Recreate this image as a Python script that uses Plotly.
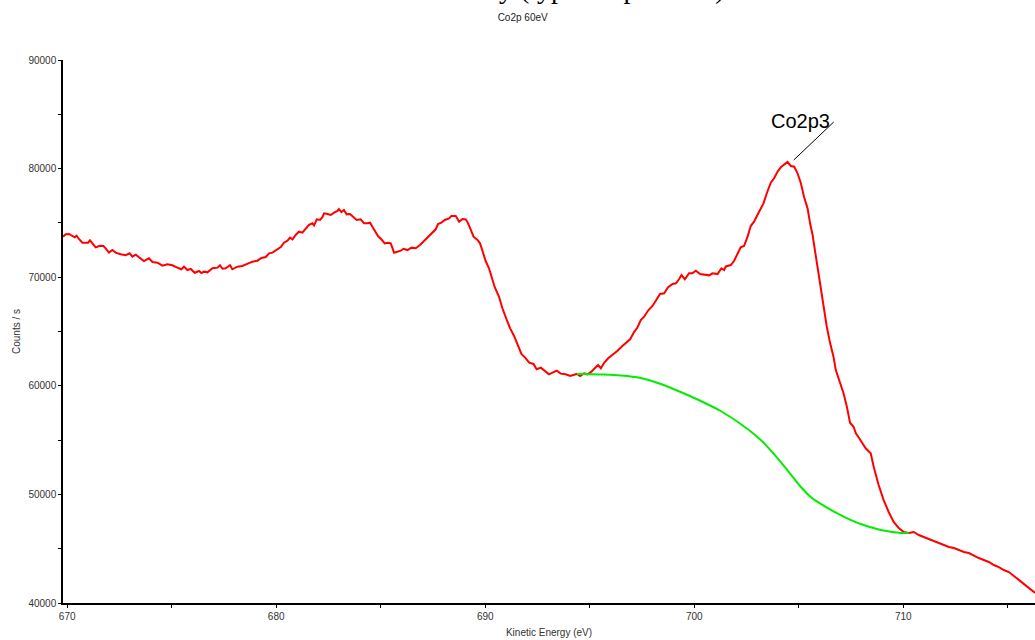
import plotly.graph_objects as go

# Co2p region, measured spectrum (kinetic energy in eV, counts per second)
energy_ev = [
    669.80, 669.93, 670.09, 670.25, 670.36, 670.45, 670.56, 670.73, 670.89, 671.00,
    671.09, 671.21, 671.36, 671.57, 671.73, 671.84, 672.00, 672.16, 672.32, 672.56,
    672.80, 672.99, 673.12, 673.28, 673.44, 673.67, 673.91, 674.08, 674.32, 674.56,
    674.79, 675.03, 675.27, 675.46, 675.59, 675.75, 675.91, 676.10, 676.31, 676.42,
    676.55, 676.71, 676.95, 677.19, 677.31, 677.43, 677.58, 677.79, 677.90, 678.14,
    678.38, 678.62, 678.86, 679.10, 679.29, 679.50, 679.66, 679.82, 680.06, 680.22,
    680.37, 680.54, 680.66, 680.78, 680.93, 681.09, 681.25, 681.41, 681.57, 681.73,
    681.81, 681.94, 682.10, 682.21, 682.29, 682.45, 682.61, 682.77, 682.93, 683.00,
    683.12, 683.24, 683.37, 683.53, 683.69, 683.85, 684.04, 684.20, 684.36, 684.49,
    684.60, 684.73, 684.87, 685.03, 685.19, 685.35, 685.48, 685.64, 685.80, 685.96,
    686.09, 686.28, 686.47, 686.67, 686.88, 687.07, 687.31, 687.52, 687.63, 687.74,
    687.90, 688.06, 688.27, 688.38, 688.59, 688.75, 688.91, 689.07, 689.18, 689.31,
    689.44, 689.63, 689.75, 689.87, 690.02, 690.18, 690.30, 690.45, 690.66, 690.82,
    691.03, 691.19, 691.38, 691.54, 691.73, 691.94, 692.10, 692.31, 692.46, 692.66,
    692.85, 693.05, 693.22, 693.42, 693.61, 693.85, 694.06, 694.22, 694.38, 694.54,
    694.73, 694.89, 695.08, 695.24, 695.40, 695.53, 695.69, 695.88, 696.09, 696.33,
    696.56, 696.72, 696.93, 697.12, 697.28, 697.44, 697.60, 697.79, 698.00, 698.16,
    698.36, 698.56, 698.75, 698.96, 699.12, 699.27, 699.39, 699.55, 699.75, 699.91,
    700.07, 700.28, 700.50, 700.71, 700.87, 701.11, 701.30, 701.43, 701.51, 701.75,
    701.90, 702.07, 702.22, 702.38, 702.55, 702.70, 702.86, 703.02, 703.18, 703.31,
    703.47, 703.66, 703.82, 703.98, 704.14, 704.30, 704.46, 704.62, 704.78, 704.94,
    705.10, 705.25, 705.42, 705.54, 705.66, 705.77, 705.89, 706.02, 706.18, 706.34,
    706.50, 706.66, 706.77, 706.93, 707.14, 707.30, 707.45, 707.62, 707.73, 707.89,
    708.05, 708.20, 708.44, 708.60, 708.82, 709.06, 709.30, 709.54, 709.78, 710.02,
    710.26, 710.50, 710.74, 710.98, 711.22, 711.46, 711.70, 711.94, 712.18, 712.42,
    712.66, 712.90, 713.14, 713.38, 713.61, 713.85, 714.09, 714.33, 714.57, 714.81,
    715.05, 715.29, 715.53, 715.77, 716.01, 716.25, 716.40,
]
counts_per_s = [
    73730, 73950, 73980, 73790, 73670, 73820, 73520, 73180, 73150, 73180,
    73400, 73060, 72750, 72900, 72870, 72660, 72260, 72500, 72260, 72110,
    72020, 72200, 71890, 72070, 71830, 71490, 71740, 71400, 71340, 71060,
    71190, 71100, 70880, 70730, 70970, 70660, 70760, 70410, 70570, 70390,
    70510, 70450, 70820, 70880, 71100, 70780, 70820, 71100, 70730, 70970,
    71030, 71220, 71430, 71520, 71770, 71860, 72200, 72260, 72600, 72780,
    73180, 73360, 73640, 73490, 73890, 74190, 74100, 74500, 74830, 74960,
    74780, 75330, 75270, 75520, 75880, 75820, 75730, 75940, 76100, 76280,
    76000, 76190, 75790, 75820, 75520, 75270, 75330, 74960, 74960, 75020,
    74650, 74190, 73790, 73490, 73120, 73180, 73120, 72260, 72350, 72440,
    72620, 72500, 72720, 72660, 72960, 73330, 73730, 74190, 74410, 74900,
    75020, 75270, 75420, 75630, 75630, 75110, 75360, 75330, 74960, 74350,
    73730, 73430, 73120, 72410, 71490, 70820, 70110, 69100, 68200, 67140,
    66060, 65290, 64590, 63760, 62930, 62530, 62130, 62010, 61520, 61670,
    61390, 61060, 61210, 61390, 61120, 61060, 60900, 60970, 61090, 60900,
    61150, 61060, 61300, 61610, 61910, 61610, 62120, 62530, 62840, 63230,
    63660, 63970, 64280, 64950, 65370, 66060, 66360, 66930, 67350, 67840,
    68450, 68520, 69070, 69370, 69440, 69810, 70200, 69810, 70360, 70360,
    70600, 70290, 70260, 70170, 70360, 70290, 70820, 70660, 70990, 71120,
    71490, 72200, 72750, 72870, 73730, 74710, 75110, 75730, 76340, 76800,
    77730, 78700, 79110, 79710, 80120, 80330, 80610, 80240, 80180, 79570,
    78650, 77410, 76340, 74960, 73890, 72500, 70970, 69130, 67280, 65440,
    63910, 62680, 61450, 60530, 59310, 58080, 56600, 56230, 55630, 55170,
    54710, 54250, 53780, 52400, 50870, 49480, 48380, 47460, 46910, 46540,
    46450, 46540, 46260, 46080, 45890, 45710, 45520, 45340, 45160, 45060,
    44880, 44700, 44600, 44330, 44140, 43960, 43780, 43500, 43310, 43040,
    42850, 42490, 42120, 41750, 41380, 41010, 40920,
]

# Shirley-type background under the Co2p3 peak
bg_energy_ev = [694.38, 695.19, 695.53, 696.48, 697.44, 698.40, 699.35, 700.31,
                701.26, 702.22, 703.18, 704.14, 705.10, 705.57, 706.05, 707.00,
                707.96, 708.92, 709.87, 710.26]
bg_counts = [61090, 61060, 61040, 60950, 60720, 60170, 59430, 58600,
             57680, 56480, 55010, 52980, 50680, 49760, 49120, 48100,
             47270, 46720, 46450, 46450]

# Peak label and its leader line (data coordinates)
peak_label = "Co2p3"
peak_label_pos = (705.1, 84400)
leader_start = (704.76, 80790)
leader_end = (706.67, 84290)

x_range = [669.8, 716.3]
y_range = [40000, 90000]
x_ticks = [670, 680, 690, 700, 710]
y_ticks = [40000, 50000, 60000, 70000, 80000, 90000]

fig = go.Figure()
fig.add_trace(go.Scatter(
    x=energy_ev, y=counts_per_s, mode="lines",
    line=dict(color="#ff0000", width=2), hoverinfo="x+y", showlegend=False,
))
fig.add_trace(go.Scatter(
    x=bg_energy_ev, y=bg_counts, mode="lines", line_shape="spline",
    line=dict(color="#00ee00", width=2, smoothing=0.8), hoverinfo="x+y", showlegend=False,
))

axis_font = dict(family="Liberation Sans, Arial, sans-serif", size=10, color="#333333")

fig.update_xaxes(
    range=x_range, tickvals=x_ticks, ticktext=[str(v) for v in x_ticks],
    showline=True, linecolor="black", linewidth=1.5, mirror=False,
    ticks="outside", ticklen=3, tickcolor="black", tickwidth=1,
    minor=dict(ticks="outside", ticklen=3, dtick=5, tick0=670, tickcolor="black"),
    showgrid=False, zeroline=False, tickfont=axis_font,
    title=dict(text="Kinetic Energy (eV)", font=axis_font, standoff=8),
    automargin=False,
)
fig.update_yaxes(
    range=y_range, tickvals=y_ticks, ticktext=[str(v) for v in y_ticks],
    showline=True, linecolor="black", linewidth=1.5, mirror=False,
    ticks="outside", ticklen=3, tickcolor="black", tickwidth=1,
    minor=dict(ticks="outside", ticklen=3, dtick=5000, tick0=40000, tickcolor="black"),
    showgrid=False, zeroline=False, tickfont=axis_font,
    title=dict(text="Counts / s", font=axis_font, standoff=6),
    automargin=False,
)

fig.add_shape(
    type="line", xref="x", yref="y",
    x0=leader_start[0], y0=leader_start[1], x1=leader_end[0], y1=leader_end[1],
    line=dict(color="black", width=1),
)
fig.add_annotation(
    x=peak_label_pos[0], y=peak_label_pos[1], xref="x", yref="y",
    text=peak_label, showarrow=False,
    font=dict(family="Liberation Sans, Arial, sans-serif", size=20, color="black"),
)

# Page heading, sitting above the top edge of the page
fig.add_annotation(
    xref="x domain", yref="y domain", x=(497 - 63) / 972, y=1 + 54 / 543,
    xanchor="left", yanchor="bottom",
    text="y (typical spectrum)", showarrow=False,
    font=dict(family="Liberation Serif, Times New Roman, serif", size=28, color="black"),
)

fig.update_layout(
    width=1035, height=640,
    margin=dict(l=63, r=0, t=60, b=37),
    paper_bgcolor="white", plot_bgcolor="white",
    title=dict(
        text="Co2p 60eV", x=0.505, xanchor="center", y=1 - 17 / 640, yanchor="middle",
        font=dict(family="Liberation Sans, Arial, sans-serif", size=10, color="#222222"),
    ),
)

fig.write_html("out.html")
